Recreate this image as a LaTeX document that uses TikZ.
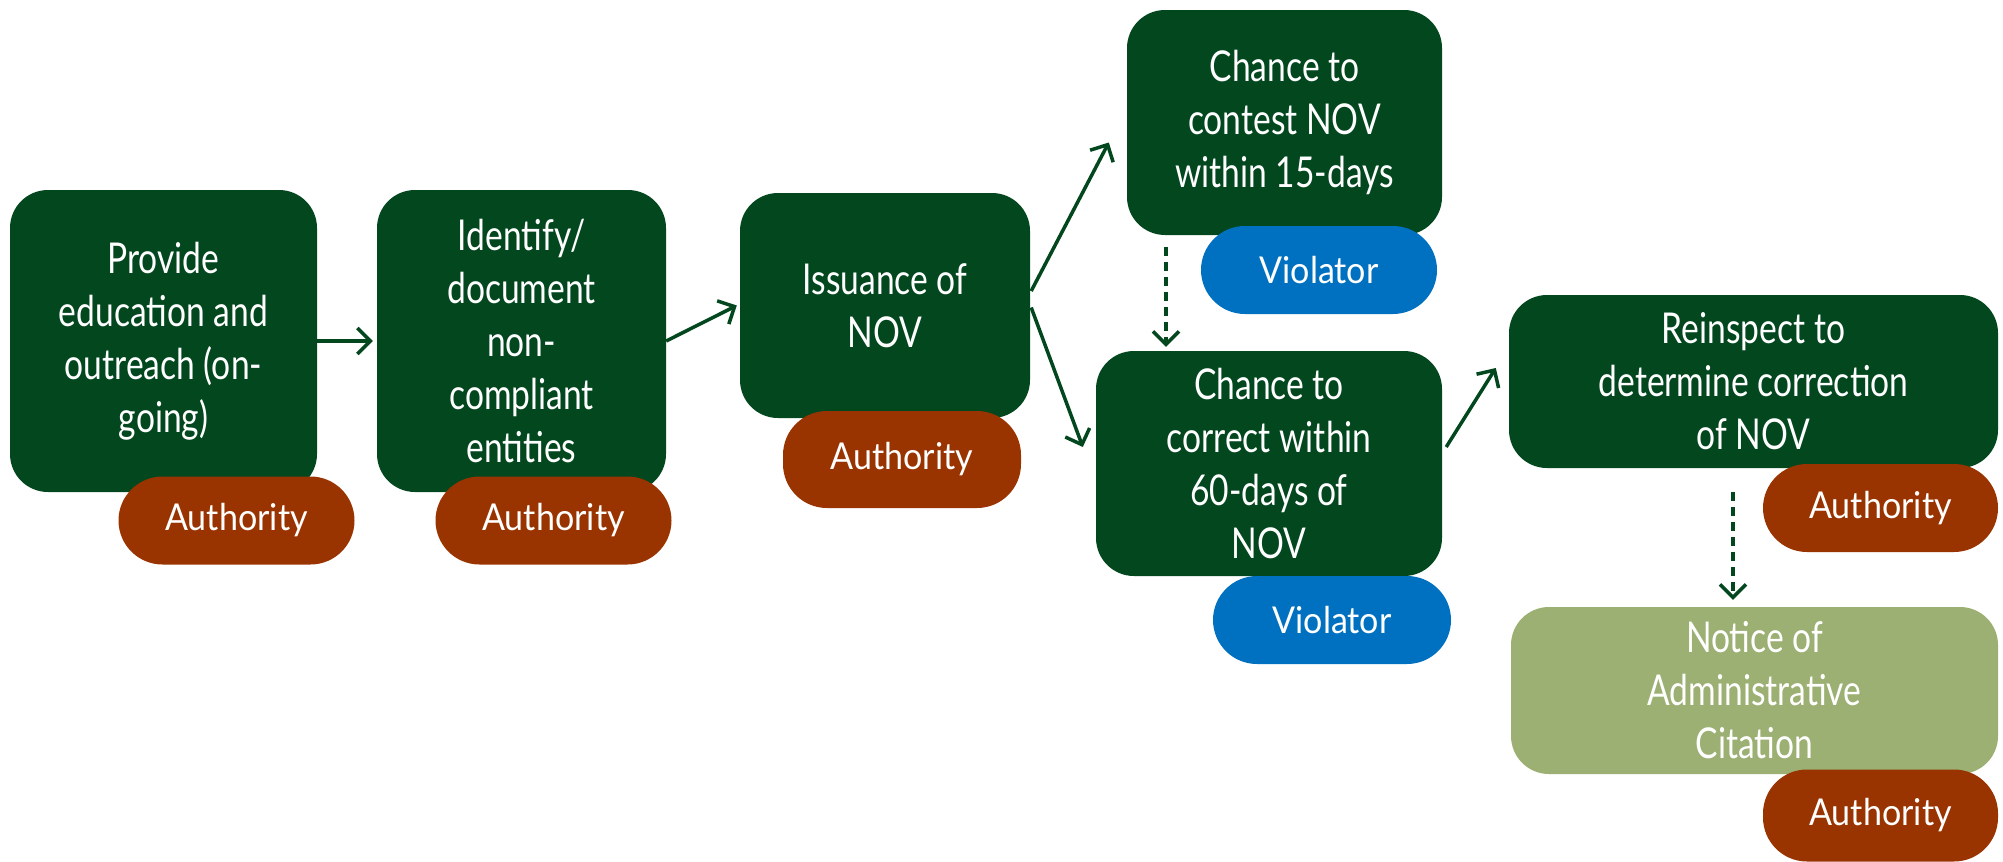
\documentclass[tikz,border=0pt]{standalone}
\usepackage{fontspec}
\setmainfont{Lato}
\newfontfamily\boxfont{Lato}[FakeStretch=0.79]
\newfontfamily\pillfont{Lato}[FakeStretch=0.92]
\usetikzlibrary{arrows.meta}
\definecolor{dkgreen}{HTML}{03471F}
\definecolor{ltgreen}{HTML}{9BB072}
\definecolor{auth}{HTML}{993300}
\definecolor{viol}{HTML}{0070C0}
\tikzset{
  stepbox/.style={rectangle, rounded corners=38pt, fill=dkgreen, text=white, align=center,
    inner sep=0pt, font=\boxfont\fontsize{42.5}{53}\selectfont},
  pill/.style={rectangle, rounded corners=44pt, text=white, inner sep=0pt,
    minimum height=88pt, minimum width=236pt, font=\pillfont\fontsize{37}{40}\selectfont},
  authpill/.style={pill, fill=auth},
  violpill/.style={pill, fill=viol},
  arr/.style={draw=dkgreen, line width=3.5pt, -{Straight Barb[length=13pt,width=26pt,line width=3.5pt]}},
  darr/.style={arr, dash pattern=on 9pt off 6pt}
}
\begin{document}
\begin{tikzpicture}[x=1pt,y=-1pt]
\useasboundingbox (0,0) rectangle (2003,862);
% main boxes
\node[stepbox, minimum width=307pt, minimum height=302pt] (b1) at (163.5,341) {Provide\\education and\\outreach (on-\\going)};
\node[stepbox, minimum width=289pt, minimum height=302pt] (b2) at (521.5,341) {Identify/\\document\\non-\\compliant\\entities};
\node[stepbox, minimum width=290pt, minimum height=225pt] (b3) at (885,305.5) {Issuance of\\NOV};
\node[stepbox, minimum width=315pt, minimum height=225pt] (b4) at (1284.5,122.5) {Chance to\\contest NOV\\within 15-days};
\node[stepbox, minimum width=346pt, minimum height=225pt] (b5) at (1269,463.5) {Chance to\\correct within\\60-days of\\NOV};
\node[stepbox, minimum width=489pt, minimum height=173pt] (b6) at (1753.5,381.5) {Reinspect to\\determine correction\\of NOV};
\node[stepbox, fill=ltgreen, minimum width=487pt, minimum height=167pt] (b7) at (1754.5,690.5) {Notice of\\Administrative\\Citation};
% pills
\node[authpill] (p1) at (236.5,520.5) {Authority};
\node[authpill] (p2) at (553.5,520.5) {Authority};
\node[authpill, minimum height=97pt, minimum width=238pt] (p3) at (902,459.5) {Authority};
\node[violpill] (p4) at (1319,270) {Violator};
\node[violpill, minimum width=238pt] (p5) at (1332,620) {Violator};
\node[authpill, minimum width=235pt] (p6) at (1880.5,508) {Authority};
\node[authpill, minimum width=235pt, minimum height=92pt] (p7) at (1880.5,815.5) {Authority};
% connectors
\draw[arr] (b1.east) -- ([xshift=-4pt]b2.west);
\draw[arr] (b2.east) -- ([xshift=-3pt]b3.west);
\draw[arr] ([xshift=1pt,yshift=14.5pt]b3.east) -- ([xshift=-18pt,yshift=-20pt]b4.west);
\draw[arr] ([xshift=1pt,yshift=-2pt]b3.east) -- ([xshift=-13pt,yshift=16.5pt]b5.west);
\draw[darr] ([xshift=-118.5pt,yshift=-12pt]b4.south) -- ([xshift=-103pt,yshift=4pt]b5.north);
\draw[arr] ([xshift=4pt,yshift=16.5pt]b5.east) -- ([xshift=-13pt,yshift=13.5pt]b6.west);
\draw[darr] ([xshift=-20.5pt,yshift=-24pt]b6.south) -- ([xshift=-21.5pt,yshift=7pt]b7.north);
\end{tikzpicture}
\end{document}
